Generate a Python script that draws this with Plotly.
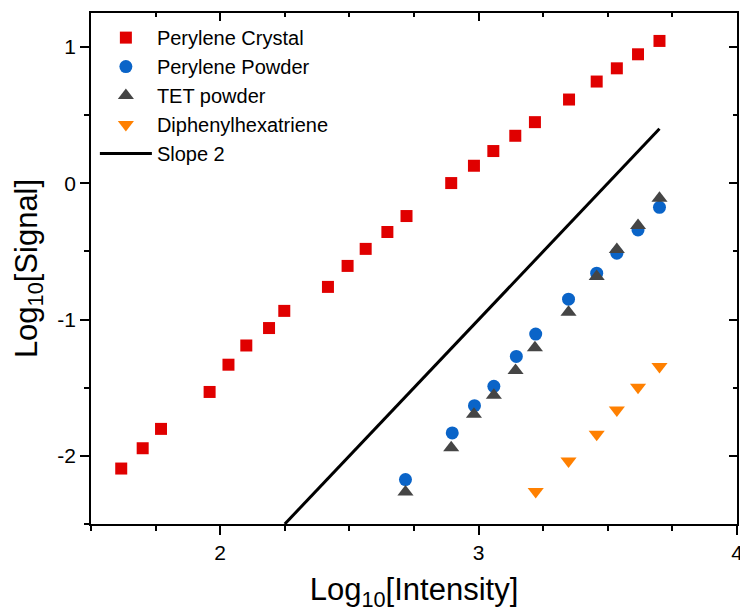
import plotly.graph_objects as go

# Perylene crystal
crystal_x = [1.617, 1.700, 1.771, 1.959, 2.032, 2.101, 2.189, 2.248, 2.417, 2.493, 2.563,
             2.647, 2.721, 2.894, 2.982, 3.057, 3.142, 3.218, 3.350, 3.457, 3.535, 3.617, 3.700]
crystal_y = [-2.093, -1.944, -1.802, -1.531, -1.331, -1.190, -1.062, -0.936, -0.760, -0.606, -0.481,
             -0.357, -0.240, 0.002, 0.129, 0.237, 0.349, 0.449, 0.615, 0.747, 0.844, 0.947, 1.045]

# Perylene powder
powder_x = [2.717, 2.898, 2.984, 3.059, 3.146, 3.221, 3.348, 3.457, 3.535, 3.617, 3.700]
powder_y = [-2.174, -1.832, -1.632, -1.490, -1.270, -1.106, -0.850, -0.659, -0.513, -0.342, -0.176]

# TET powder
tet_x = [2.717, 2.894, 2.982, 3.059, 3.143, 3.218, 3.348, 3.457, 3.535, 3.617, 3.700]
tet_y = [-2.265, -1.940, -1.695, -1.556, -1.373, -1.207, -0.946, -0.684, -0.486, -0.310, -0.110]

# Diphenylhexatriene
dph_x = [3.221, 3.348, 3.457, 3.535, 3.617, 3.700]
dph_y = [-2.261, -2.037, -1.841, -1.663, -1.497, -1.345]

# Reference line with slope 2
slope_x = [2.25, 3.70]
slope_y = [-2.50, 0.40]

x_range = [1.5, 4.0]
y_range = [-2.5, 1.25]

x_tickvals = [2, 3, 4]
x_ticktext = ["2", "3", "4"]
y_tickvals = [-2, -1, 0, 1]
y_ticktext = ["-2", "-1", "0", "1"]

FONT = "Liberation Sans, Arial, sans-serif"

fig = go.Figure()
fig.add_trace(go.Scatter(x=crystal_x, y=crystal_y, mode="markers", name="Perylene Crystal",
                         marker=dict(symbol="square", size=12, color="#E00000")))
fig.add_trace(go.Scatter(x=powder_x, y=powder_y, mode="markers", name="Perylene Powder",
                         marker=dict(symbol="circle", size=13, color="#0A64C8")))
fig.add_trace(go.Scatter(x=tet_x, y=tet_y, mode="markers", name="TET powder",
                         marker=dict(symbol="triangle-up", size=14, color="#454545")))
fig.add_trace(go.Scatter(x=dph_x, y=dph_y, mode="markers", name="Diphenylhexatriene",
                         marker=dict(symbol="triangle-down", size=14, color="#FF8000")))
fig.add_trace(go.Scatter(x=slope_x, y=slope_y, mode="lines", name="Slope 2",
                         line=dict(color="black", width=3)))
# carrier for the mirrored top/right axes
fig.add_trace(go.Scatter(x=[None], y=[None], xaxis="x2", yaxis="y2", showlegend=False,
                         hoverinfo="skip"))

axis_common = dict(showgrid=False, zeroline=False, showline=True, linecolor="black",
                   linewidth=1.5, tickcolor="black", tickwidth=1.5, automargin=False)

fig.update_layout(
    width=740, height=612,
    margin=dict(l=91, r=3, t=13, b=88),
    paper_bgcolor="white", plot_bgcolor="white",
    font=dict(family=FONT, color="black"),
    showlegend=True,
    legend=dict(x=0.006, y=0.99, xanchor="left", yanchor="top",
                bgcolor="rgba(0,0,0,0)", font=dict(size=20, family=FONT),
                itemwidth=52, tracegroupgap=0, borderwidth=0,
                xref="paper", yref="paper"),
    xaxis=dict(range=x_range, tickmode="array", tickvals=x_tickvals, ticktext=x_ticktext,
               ticks="outside", ticklen=9, ticklabeloverflow="allow",
               tickfont=dict(size=21, family=FONT),
               minor=dict(dtick=0.25, tick0=0, ticks="outside", ticklen=5,
                          tickcolor="black", tickwidth=1.5),
               title=dict(text="Log<sub>10</sub>[Intensity]", font=dict(size=31, family=FONT),
                          standoff=22),
               **axis_common),
    yaxis=dict(range=y_range, tickmode="array", tickvals=y_tickvals, ticktext=y_ticktext,
               ticks="outside", ticklen=9, ticklabeloverflow="allow",
               tickfont=dict(size=21, family=FONT),
               minor=dict(dtick=0.5, tick0=0, ticks="outside", ticklen=5,
                          tickcolor="black", tickwidth=1.5),
               title=dict(text="Log<sub>10</sub>[Signal]", font=dict(size=31, family=FONT),
                          standoff=11),
               **axis_common),
    xaxis2=dict(range=x_range, overlaying="x", side="top", tickmode="array",
                tickvals=x_tickvals, ticks="inside", ticklen=8, showticklabels=False,
                minor=dict(dtick=0.25, tick0=0, ticks="inside", ticklen=4,
                           tickcolor="black", tickwidth=1.5),
                **axis_common),
    yaxis2=dict(range=y_range, overlaying="y", side="right", tickmode="array",
                tickvals=y_tickvals, ticks="inside", ticklen=8, showticklabels=False,
                minor=dict(dtick=0.5, tick0=0, ticks="inside", ticklen=4,
                           tickcolor="black", tickwidth=1.5),
                **axis_common),
)

fig.write_html("out.html")
